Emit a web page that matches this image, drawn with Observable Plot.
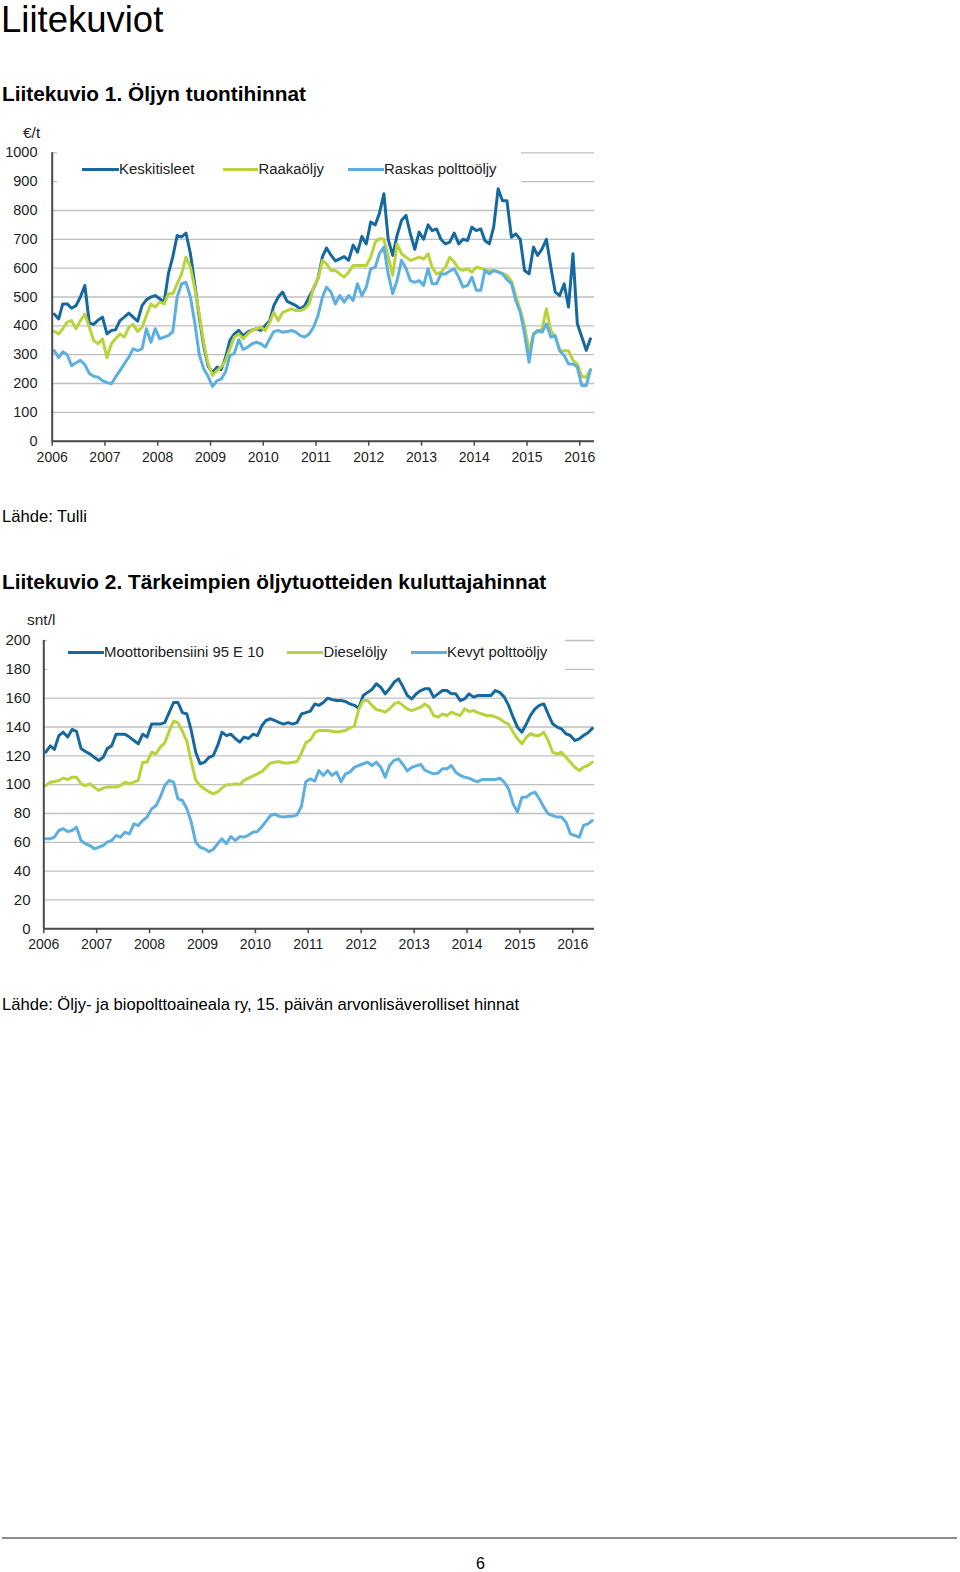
<!DOCTYPE html>
<html><head><meta charset="utf-8">
<script src="https://cdn.jsdelivr.net/npm/d3@7"></script>
<script src="https://cdn.jsdelivr.net/npm/@observablehq/plot@0.6"></script>
<style>
body{margin:0;background:#fff;}
#page{position:relative;width:960px;height:1572px;overflow:hidden;font-family:"Liberation Sans",Arial,Helvetica,sans-serif;color:#000;background:#fff;}
.t{position:absolute;white-space:nowrap;}
.chart{position:absolute;left:0;}
.legbox{position:absolute;background:#fff;}
.lline{position:absolute;height:3px;}
.ltxt{position:absolute;white-space:nowrap;font-size:14.9px;line-height:14.9px;color:#222;}
</style></head><body><div id="page">
<div class="t" style="left:1px;top:0px;font-size:36.5px;line-height:40.8px;">Liitekuviot</div>
<div class="t" style="left:2px;top:83.6px;font-size:20.8px;line-height:20.8px;font-weight:bold;">Liitekuvio 1. Öljyn tuontihinnat</div>
<div class="t" style="left:2px;top:509px;font-size:16.6px;line-height:16.6px;">Lähde: Tulli</div>
<div class="t" style="left:2px;top:571.6px;font-size:20.8px;line-height:20.8px;font-weight:bold;">Liitekuvio 2. Tärkeimpien öljytuotteiden kuluttajahinnat</div>
<div class="t" style="left:2px;top:997px;font-size:16.6px;line-height:16.6px;">Lähde: Öljy- ja biopolttoaineala ry, 15. päivän arvonlisäverolliset hinnat</div>
<div style="position:absolute;left:2px;top:1537px;width:955px;height:2px;background:#8c8c8c;"></div>
<div class="t" style="left:476px;top:1555.5px;font-size:16px;line-height:16px;">6</div>
<div id="c1" class="chart" style="top:120px;"></div>
<div id="c2" class="chart" style="top:605px;"></div>
<div class="t" style="left:23px;top:125px;font-size:15.5px;line-height:15.5px;color:#222;">€/t</div>
<div class="t" style="left:27px;top:612px;font-size:15.5px;line-height:15.5px;color:#222;">snt/l</div>
<div class="legbox" style="left:57px;top:141px;width:464px;height:44px;"></div>
<div class="legbox" style="left:47px;top:628px;width:518px;height:44px;"></div>
<div id="leg1"></div>
<div id="leg2"></div>
</div>
<script>
// ---- Chart 1 data: €/t, monthly Jan 2006 – Mar 2016 ----
const keskitisleet = [
 441,424,476,476,461,470,500,540,410,405,420,430,
 372,384,386,418,430,444,430,416,470,490,500,505,
 494,482,580,640,713,708,722,650,540,430,330,260,
 238,257,248,290,350,372,384,366,378,385,390,384,
 401,418,470,500,517,485,478,470,459,470,500,530,
 565,640,670,645,625,632,640,627,680,655,710,684,
 760,750,790,858,700,644,713,765,783,720,665,725,
 700,750,730,736,700,684,690,722,684,700,696,742,
 730,736,696,684,742,875,834,834,707,719,700,592,
 580,673,644,667,700,603,517,505,546,465,650,408,
 361,315,355];
const raakaoljy = [
 381,372,390,413,418,390,418,441,395,349,338,355,
 290,338,355,372,361,395,405,381,395,436,476,465,
 482,476,511,511,546,580,638,603,528,440,340,268,
 228,245,257,280,320,361,372,355,372,384,390,395,
 384,413,447,418,447,453,459,453,453,459,476,534,
 563,627,615,592,592,580,569,586,609,609,609,609,
 638,690,702,700,640,575,684,650,638,627,632,638,
 632,650,603,580,586,603,638,621,598,592,598,586,
 603,600,595,590,592,588,582,575,555,505,455,400,
 310,370,378,390,459,384,361,314,314,314,280,268,
 225,222,248];
const raskasPolttooljy = [
 314,290,310,300,262,272,280,265,235,225,222,210,
 203,199,222,245,268,291,320,314,320,390,343,390,
 355,361,366,380,500,546,551,499,407,300,250,225,
 190,210,215,240,297,305,352,318,326,338,343,338,
 326,355,380,384,378,380,384,378,366,361,372,395,
 436,500,534,517,476,505,482,505,488,546,505,534,
 598,603,650,673,580,511,557,627,600,557,551,557,
 540,598,546,546,580,580,590,598,569,534,540,569,
 523,523,592,580,592,586,580,560,546,488,447,372,
 274,372,384,378,407,361,366,314,297,268,268,257,
 193,193,248];
// ---- Chart 2 data: snt/l, monthly Jan 2006 – May 2016 ----
const bensiini = [
 122.5,127,124.4,134,136.4,133,138.3,137,125,123,121.4,119,
 116.8,119,125,127,135,135,135,133,130.6,128.3,135,133,
 142,142,142,143,150,157,157,150,149,137.6,122.5,114.5,
 115.6,119,120,127,136.4,134,135,132,129.5,133,132,135,
 134,141,144.5,145.7,144.5,143,142,143,142,143,149,150,
 151,156,155,157,160,159,158.4,158.4,157.7,156,155,153,
 161.8,164,166,170,167.6,163,166.5,171,173.4,168,161.8,159.5,
 163,165.3,166.5,166.5,160.7,163,165.3,165.3,163,163,158.4,159.5,
 163,160.7,161.8,161.8,161.8,161.8,165.3,164,160.7,155,146.8,139.9,
 136.4,142.2,148,152.6,155,156,149,142.2,139.9,138.7,135.3,134.1,
 130.6,131.8,134.1,136,139];
const diesel = [
 99.4,101.7,102.2,102.9,104.5,103.6,105.2,105.2,100.6,99.4,100.6,98.3,
 96,97.6,98.3,98.3,98.3,99.4,101.7,100.6,101.7,102.9,115.6,115.6,
 122.5,121.4,126,129,137,144,143,137,130,116,103,99.4,
 97,95,93.6,95,97.6,100,100,100.6,100,103,104.5,106,
 107.5,109,112,115,115.6,116,115,115,115.5,116,122,129,
 131,136,137.6,137.6,137.6,137,136.5,137,137.6,139.5,140.6,152,
 158.4,158.4,155,152,151.4,150.3,152.6,156,157.2,155,152.6,151.4,
 152.6,153.8,156,153.8,148,146.8,149,148,150.3,149,148,152.6,
 150.7,151.4,150,149,148,148,147,145.7,143.4,142,136.4,131.8,
 128.3,133,135.3,134.1,134.1,136.4,130.6,122.5,121.4,122.5,119.1,115.6,
 112.1,109.8,112.1,113.3,115.6];
const kevytPolttooljy = [
 62.4,62.4,63.6,68.2,69.4,67.5,68.2,70.5,61.3,59,57.8,55.5,
 56.6,57.8,60.1,61.3,64.7,63.6,67,65.9,72.8,71.7,75.1,77.5,
 83.2,85.5,91.3,99.4,102.9,101.7,90.2,89,83.2,74,60,56.6,
 55.5,53.5,55,59,62.4,59,64,61.3,64,63.6,65,67,
 67.5,71,74.5,78.6,79.5,78,77.5,78,78,79,85,102,
 104,102.5,109.8,106.4,109.8,106.4,108.7,102,107.5,108.7,112,113.3,
 114.5,115.6,113.3,115.6,112.1,105.2,113.3,116.8,117.9,114,109.5,112,
 113,114,110,108.7,107.5,108,111,111,113.3,108.7,106.4,105.2,
 104.5,103,102,103.6,103.6,103.6,103.6,104.5,101.7,97.1,86.7,80.9,
 91.3,91.3,93.6,94.8,90.2,84.4,79.8,78.6,77.5,77.5,74,65.9,
 64.7,63.6,71.7,72.8,75.1];

const names1 = ["Keskitisleet","Raakaöljy","Raskas polttoöljy"];
const names2 = ["Moottoribensiini 95 E 10","Dieselöljy","Kevyt polttoöljy"];
const colors = ["#15699f","#b9d33c","#5dafe0"];
const yTicks1 = [0,100,200,300,400,500,600,700,800,900,1000];
const yTicks2 = [0,20,40,60,80,100,120,140,160,180,200];
const yearLabels = [2006,2007,2008,2009,2010,2011,2012,2013,2014,2015,2016];

const FONT = '"Liberation Sans", Arial, Helvetica, sans-serif';
const start = new Date(Date.UTC(2006,0,1));
const months = n => d3.utcMonth.range(start, d3.utcMonth.offset(start, n)).map(d => d3.utcDay.offset(d, 14));
const yearDates = yearLabels.map(y => new Date(Date.UTC(y,0,1)));

function rows(values){ const ds = months(values.length); return values.map((v,i)=>({date: ds[i], value: v})); }

function chart(series, opts){
  return Plot.plot({
    width: 610, height: 350,
    marginLeft: opts.ml, marginRight: opts.mr, marginTop: opts.mt, marginBottom: opts.mb,
    style: {fontFamily: FONT, fontSize: "14px", color: "#1e1e1e", background: "transparent", overflow: "visible"},
    x: {type: "utc", domain: [start, opts.end]},
    y: {domain: [opts.yTicks[0], opts.yTicks[opts.yTicks.length-1]]},
    marks: [
      Plot.gridY(opts.yTicks, {stroke: "#bfbfbf", strokeOpacity: 1, strokeWidth: 1.3}),
      ...series.map((s,i) => Plot.line(rows(s), {x: "date", y: "value", stroke: colors[i], strokeWidth: 3, strokeLinejoin: "round", strokeLinecap: "round"})),
      Plot.ruleY([opts.yTicks[0]], {stroke: "#4a4a4a", strokeWidth: 2}),
      Plot.ruleX([start], {stroke: "#4a4a4a", strokeWidth: 2}),
      Plot.axisX(yearDates, {tickFormat: d3.utcFormat("%Y"), tickSize: 5, tickPadding: opts.xpad, stroke: "#4a4a4a", strokeWidth: 1.5, fontSize: opts.xfs, label: null}),
      Plot.axisY(opts.yTicks, {tickFormat: d => String(d), tickSize: 0, tickPadding: opts.ypad, fontSize: opts.yfs, label: null})
    ]
  });
}

document.getElementById("c1").append(chart([keskitisleet, raakaoljy, raskasPolttooljy], {
  ml: 51.7, mr: 16, mt: 32.3, mb: 29.3, xfs: 14, yfs: 14.5, xpad: 6, ypad: 14.7,
  yTicks: yTicks1, end: new Date(Date.UTC(2016,3,12))
}));
document.getElementById("c2").append(chart([bensiini, diesel, kevytPolttooljy], {
  ml: 43.3, mr: 16, mt: 35, mb: 26.7, xfs: 14, yfs: 15, xpad: 5.5, ypad: 13.3,
  yTicks: yTicks2, end: new Date(Date.UTC(2016,4,30))
}));

function legend(el, names, items, y){
  const box = document.getElementById(el);
  names.forEach((n,i) => {
    const it = items[i];
    const l = document.createElement("div");
    l.className = "lline";
    l.style.cssText = `left:${it[0]}px;top:${y-1.5}px;width:${it[1]-it[0]}px;background:${colors[i]};`;
    box.appendChild(l);
    const t = document.createElement("div");
    t.className = "ltxt";
    t.style.cssText = `left:${it[1]+0.5}px;top:${y-7.3}px;`;
    t.textContent = n;
    box.appendChild(t);
  });
}
legend("leg1", names1, [[82,118.5],[223,258],[348,383.5]], 169.5);
legend("leg2", names2, [[68,103.5],[287,323],[411,446.5]], 652.5);
</script></body></html>
